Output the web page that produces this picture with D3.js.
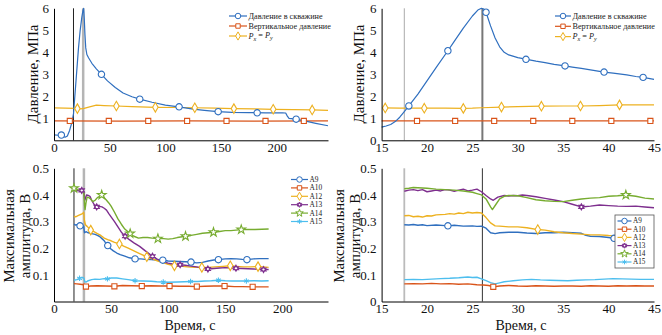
<!DOCTYPE html>
<html><head><meta charset="utf-8">
<script src="https://cdn.jsdelivr.net/npm/d3@7"></script>
<style>
html,body{margin:0;padding:0;background:#fff;}
svg{display:block;font-family:"Liberation Serif","Times New Roman",serif;}
</style></head>
<body><svg id="c" width="662" height="335"></svg>
<script>
// ---------------- DATA ----------------
// Top-left panel (time 0..246 s), pressure MPa
const wellL = [[0,0.25],[4,0.23],[7,0.22],[10,0.14],[12,0.2],[14,0.45],[16,0.8],[17.5,1.2],[19,2.2],[20.5,3.2],[22,4.2],[23.5,5.0],[25,5.6],[26,5.9],[26.6,6.0],[27.2,5.5],[27.8,4.8],[28.5,4.2],[29.5,3.9],[31,3.75],[34,3.5],[38,3.25],[42.6,3.0],[48,2.7],[55,2.4],[62,2.15],[70,1.98],[77,1.87],[88,1.73],[100,1.6],[112,1.52],[125,1.42],[135,1.36],[147,1.3],[160,1.27],[175,1.26],[190,1.25],[205,1.25],[208,1.24],[209.5,1.1],[211,1.0],[217,0.96],[225,0.88],[235,0.77],[246,0.66]];
const wellMarkL = [[6.6,0.24],[42.6,3.0],[77,1.87],[112.3,1.52],[147.4,1.3],[182.4,1.25],[217.4,0.96]];
const vertL = [[0,0.88],[60,0.875],[120,0.88],[180,0.875],[246,0.88]];
const vertMarkL = [[14.2,0.88],[49.2,0.88],[84.6,0.88],[119.5,0.88],[154.9,0.88],[189.9,0.88],[224.3,0.88]];
const pxyL = [[0,1.47],[10,1.46],[18,1.45],[21,1.44],[24,1.43],[27,1.45],[32,1.52],[38,1.6],[45,1.58],[56,1.56],[70,1.53],[91,1.5],[110,1.49],[126,1.48],[145,1.46],[161,1.44],[180,1.43],[197,1.41],[215,1.39],[232,1.38],[246,1.36]];
const pxyMarkL = [[21,1.44],[56,1.56],[91,1.5],[126.4,1.48],[161.5,1.44],[196.8,1.41],[231.8,1.38]];

// Top-right panel (time 15..45 s)
const wellR = [[15,0.6],[15.5,0.65],[16,0.72],[16.5,0.85],[17,1.05],[17.5,1.3],[18,1.56],[19,2.1],[20,2.7],[21,3.3],[22.3,4.07],[23,4.5],[24,5.1],[25,5.65],[25.6,5.92],[26,6.0],[26.3,5.95],[26.5,5.82],[27,5.2],[27.5,4.65],[28,4.25],[28.5,4.0],[29,3.88],[30,3.76],[31,3.68],[32,3.6],[33,3.53],[34,3.45],[35.2,3.38],[36,3.33],[37,3.27],[38,3.2],[39.5,3.1],[40.5,3.05],[42,2.97],[43,2.9],[43.8,2.86],[45,2.77]];
const wellMarkR = [[18,1.56],[22.3,4.07],[26.5,5.82],[30.9,3.68],[35.2,3.38],[39.5,3.1],[43.8,2.86]];
const vertR = [[15,0.88],[30,0.88],[45,0.88]];
const vertMarkR = [[18.9,0.88],[23.1,0.88],[27.4,0.88],[31.7,0.88],[36.0,0.88],[40.3,0.88],[44.6,0.88]];
const pxyR = [[15.2,1.47],[17,1.46],[19.7,1.46],[22,1.46],[24,1.45],[25,1.46],[26,1.48],[28.2,1.51],[30,1.53],[32.6,1.55],[35,1.56],[36.9,1.56],[39,1.58],[41.2,1.61],[43,1.61],[45,1.61]];
const pxyMarkR = [[15.4,1.47],[19.7,1.46],[24,1.45],[28.2,1.51],[32.6,1.55],[36.9,1.56],[41.2,1.61]];

// Bottom-left panel (time 0..240 s), max amplitude V
const a9L = [[17.5,0.29],[19,0.287],[21,0.289],[22.8,0.284],[24.5,0.286],[26,0.282],[26.7,0.258],[28,0.262],[30,0.258],[33,0.255],[36,0.252],[38,0.248],[40,0.244],[42,0.236],[44,0.228],[46,0.215],[47.1,0.21],[49,0.2],[52,0.19],[55,0.182],[58,0.176],[62,0.17],[66,0.164],[71,0.16],[76,0.16],[80,0.158],[85,0.157],[90,0.156],[95.3,0.155],[100,0.152],[105,0.151],[110,0.15],[115,0.149],[120,0.148],[125,0.145],[130,0.147],[135,0.152],[140,0.156],[144,0.157],[150,0.16],[155,0.161],[160,0.16],[165,0.158],[169,0.157],[175,0.16],[180,0.161],[188,0.161]];
const a9MarkL = [[22.8,0.284],[47.1,0.21],[71,0.16],[95.3,0.155],[120,0.148],[144,0.157],[169,0.157]];
const a10L = [[17.5,0.067],[20,0.066],[23,0.065],[26,0.063],[27,0.057],[28,0.056],[32,0.058],[38,0.059],[45,0.058],[52.9,0.057],[60,0.06],[68,0.059],[76.9,0.058],[85,0.059],[93,0.058],[101.2,0.058],[110,0.057],[118,0.057],[125.1,0.056],[132,0.057],[140,0.058],[149.4,0.058],[158,0.056],[165,0.056],[174,0.055],[181,0.055],[188,0.055]];
const a10MarkL = [[28,0.056],[52.9,0.057],[76.9,0.058],[101.2,0.058],[125.1,0.056],[149.4,0.058],[174,0.055]];
const a12L = [[17.5,0.32],[19,0.318],[21,0.322],[23,0.326],[25,0.33],[26,0.335],[26.6,0.305],[27.5,0.288],[29,0.282],[32.2,0.268],[35,0.262],[38,0.255],[41,0.248],[44,0.238],[47,0.232],[50,0.228],[53,0.222],[57.3,0.216],[61,0.208],[65,0.2],[70,0.19],[75,0.18],[81.3,0.168],[86,0.16],[91,0.152],[96,0.145],[100,0.14],[105.5,0.134],[110,0.133],[117,0.13],[123,0.128],[129.5,0.128],[135,0.128],[141,0.13],[148,0.132],[154.4,0.134],[160,0.132],[166,0.13],[172,0.13],[178.7,0.131],[183,0.13],[188,0.128]];
const a12MarkL = [[32.2,0.268],[57.3,0.216],[81.3,0.168],[105.5,0.134],[129.5,0.128],[154.4,0.134],[178.7,0.131]];
const a13L = [[17.5,0.42],[19,0.418],[21,0.415],[23,0.418],[25,0.415],[26.2,0.41],[27,0.38],[28.5,0.4],[30,0.398],[31.5,0.395],[33,0.38],[35,0.365],[37.4,0.355],[40,0.357],[42,0.355],[44,0.35],[46,0.343],[48,0.33],[50,0.318],[53,0.3],[56,0.28],[59,0.26],[62.3,0.245],[66,0.232],[70,0.22],[75,0.207],[80,0.19],[86.3,0.17],[90,0.16],[95,0.15],[100,0.144],[105,0.14],[110.5,0.138],[115,0.136],[120,0.133],[125,0.13],[130,0.125],[134.8,0.122],[140,0.124],[145,0.126],[150,0.127],[159.4,0.125],[165,0.124],[170,0.123],[175,0.122],[183.5,0.12],[188,0.12]];
const a13MarkL = [[24.3,0.417],[37.4,0.355],[62.3,0.245],[86.3,0.17],[110.5,0.138],[134.8,0.122],[159.4,0.125],[183.5,0.12]];
const a14L = [[17.5,0.425],[19,0.424],[21,0.42],[23,0.418],[25,0.415],[26.2,0.405],[26.8,0.36],[27.2,0.345],[28,0.37],[29,0.392],[30.5,0.39],[32,0.385],[34,0.375],[36,0.38],[38,0.39],[40,0.395],[41.8,0.4],[44,0.39],[46,0.38],[48,0.37],[50,0.358],[53,0.335],[56,0.31],[59,0.29],[62,0.272],[66.7,0.255],[70,0.245],[74,0.238],[78,0.24],[82,0.24],[86,0.238],[91,0.236],[96,0.236],[100,0.234],[104,0.236],[108,0.24],[115.2,0.245],[120,0.248],[125,0.252],[130,0.256],[135,0.258],[139.7,0.26],[145,0.263],[150,0.266],[155,0.266],[164,0.27],[170,0.27],[176,0.27],[182,0.271],[188,0.272]];
const a14MarkL = [[17.5,0.425],[41.8,0.4],[66.7,0.255],[91,0.236],[115.2,0.245],[139.7,0.26],[164,0.27]];
const a15L = [[17.5,0.08],[20,0.082],[23,0.088],[25,0.09],[26.2,0.088],[27,0.074],[28,0.073],[30,0.078],[33,0.082],[36,0.084],[40,0.083],[44,0.086],[46.8,0.085],[50,0.088],[55,0.088],[60,0.085],[65,0.082],[71,0.078],[78,0.077],[85,0.076],[90,0.074],[95.7,0.073],[100,0.072],[108,0.073],[114,0.074],[119.6,0.075],[126,0.075],[132,0.077],[138,0.078],[144,0.08],[150,0.078],[156,0.077],[162,0.077],[168.5,0.077],[175,0.078],[182,0.077],[188,0.078]];
const a15MarkL = [[22.4,0.087],[46.8,0.085],[71,0.078],[95.7,0.073],[119.6,0.075],[144,0.08],[168.5,0.077]];

// Bottom-right panel (time 15..45 s)
const a9R = [[17.5,0.288],[18,0.287],[18.5,0.289],[19,0.286],[19.5,0.288],[20,0.285],[21,0.287],[22,0.285],[22.3,0.284],[23,0.286],[24,0.283],[25,0.284],[25.5,0.282],[26,0.283],[26.5,0.275],[27,0.258],[27.5,0.255],[28,0.258],[29,0.26],[30,0.26],[31,0.257],[32,0.255],[33,0.258],[34,0.258],[35,0.26],[36,0.258],[37,0.256],[37.5,0.248],[38,0.245],[39,0.244],[40,0.24],[41,0.235],[41.5,0.232],[42,0.23],[43,0.226],[44,0.224],[45,0.222]];
const a9MarkR = [[22.3,0.284],[40.6,0.237]];
const a10R = [[17.5,0.066],[18.5,0.067],[19.5,0.066],[20.5,0.068],[21.5,0.066],[22.5,0.067],[23.5,0.065],[24.5,0.066],[25.5,0.063],[26.2,0.062],[26.8,0.06],[27.3,0.055],[28,0.058],[29,0.06],[30,0.058],[31,0.057],[32,0.059],[33,0.058],[34,0.057],[35,0.058],[36,0.058],[37,0.057],[38,0.059],[39,0.058],[40,0.057],[41,0.059],[42,0.058],[43,0.059],[44,0.058],[45,0.058]];
const a10MarkR = [[27.3,0.055]];
const a12R = [[17.5,0.322],[18,0.323],[18.5,0.318],[19,0.32],[19.5,0.317],[20,0.322],[20.5,0.321],[21,0.325],[22,0.327],[22.5,0.33],[23,0.328],[23.5,0.332],[24,0.33],[24.5,0.335],[25,0.332],[25.5,0.334],[26,0.332],[26.5,0.315],[27,0.295],[27.5,0.284],[28,0.283],[29,0.28],[30,0.28],[31,0.277],[32.2,0.27],[33,0.268],[34,0.262],[35,0.258],[36,0.255],[37,0.253],[38,0.25],[39,0.25],[40,0.248],[41,0.247],[42,0.245],[43,0.244],[44,0.242],[45,0.242]];
const a12MarkR = [[32.2,0.27]];
const a13R = [[17.5,0.414],[18,0.418],[18.5,0.42],[19,0.416],[19.5,0.42],[20,0.412],[20.5,0.415],[21,0.418],[21.5,0.415],[22,0.42],[22.5,0.418],[23,0.414],[23.5,0.418],[24,0.422],[24.5,0.415],[25,0.418],[25.5,0.422],[26,0.412],[26.5,0.398],[27,0.385],[27.3,0.38],[27.8,0.392],[28.5,0.398],[29,0.396],[29.5,0.398],[30,0.397],[30.5,0.4],[31,0.398],[32,0.393],[33,0.387],[34,0.381],[35,0.375],[36,0.365],[37,0.355],[38,0.358],[39,0.362],[40,0.36],[41,0.358],[42,0.357],[43,0.358],[44,0.355],[45,0.352]];
const a13MarkR = [[37,0.355]];
const a14R = [[17.5,0.423],[18,0.425],[18.5,0.428],[19,0.427],[20,0.425],[21,0.422],[22,0.42],[23,0.418],[24,0.415],[25,0.41],[25.5,0.405],[26,0.4],[26.5,0.385],[27,0.355],[27.2,0.345],[27.6,0.365],[28,0.385],[28.5,0.395],[29,0.398],[30,0.397],[31,0.39],[32,0.382],[33,0.378],[34,0.376],[35,0.375],[36,0.38],[37,0.385],[38,0.388],[39,0.39],[40,0.395],[41,0.397],[41.9,0.4],[43,0.395],[44,0.388],[45,0.385]];
const a14MarkR = [[41.9,0.4]];
const a15R = [[17.5,0.082],[18.5,0.083],[19.5,0.082],[20.5,0.084],[21.5,0.086],[22.5,0.087],[23.5,0.089],[24.5,0.092],[25,0.09],[25.5,0.091],[26,0.085],[26.5,0.078],[27,0.071],[27.5,0.066],[28,0.07],[28.5,0.074],[29.5,0.078],[30.5,0.081],[31.5,0.083],[32.5,0.081],[33.5,0.08],[34.5,0.079],[35.5,0.078],[36.5,0.08],[37.5,0.081],[38.5,0.082],[39.5,0.084],[40.5,0.086],[41.5,0.085],[42.5,0.084],[43.5,0.083],[44.5,0.083],[45,0.083]];
const a15MarkR = [];

// Ticks, labels
const xTicksWide = [0,50,100,150,200];
const xTicksZoom = [15,20,25,30,35,40,45];
const yTicksPressL = [1,2,3,4,5,6];
const yTicksPressR = [0,1,2,3,4,5,6];
const yTicksAmpL = [0.1,0.2,0.3,0.4,0.5];
const yTicksAmpR = [0,0.1,0.2,0.3,0.4,0.5];
const vlinesTopL = [17.5, 26.2];
const vlinesTopR = [17.5, 26.1];
const vlinesBotL = [17.5, 26.2];
const vlinesBotR = [17.5, 26.1];
const pressNames = ["Давление в скважине","Вертикальное давление","Px = Py"];
const ampNames = ["A9","A10","A12","A13","A14","A15"];
const yTitlePress = "Давление, МПа";
const yTitleAmp = ["Максимальная","амплитуда, В"];
const xTitle = "Время, с";

// ---------------- STYLE ----------------
const C = {blue:"#2f6fbf", orange:"#d9541a", yellow:"#edb120", purple:"#7e2f8e", green:"#77ac30", cyan:"#4dbeee"};

const hexagram = {draw(ctx, size){
  const r = Math.sqrt(size)*0.62;
  for (let k=0;k<2;k++){
    for (let i=0;i<3;i++){
      const a = (k?Math.PI/2:-Math.PI/2) + i*2*Math.PI/3;
      const px = r*Math.cos(a), py = r*Math.sin(a);
      if(i===0) ctx.moveTo(px,py); else ctx.lineTo(px,py);
    }
    ctx.closePath();
  }
}};
const shapes = {circle:d3.symbolCircle, square:d3.symbolSquare, diamond:d3.symbolDiamond, hex:hexagram, star:d3.symbolStar, ast:d3.symbolAsterisk};
const sizes = {circle:32, square:26, diamond:26, hex:24, star:24, ast:20};

const svg = d3.select("#c");

function panel(p){
  const x = d3.scaleLinear().domain(p.xDomain).range([p.left,p.right]);
  const y = d3.scaleLinear().domain(p.yDomain).range([p.bottom,p.top]);
  const g = svg.append("g");
  p.vlines.forEach((v,i)=>{
    g.append("line").attr("x1",x(v)).attr("x2",x(v)).attr("y1",y(p.yDomain[0])).attr("y2",y(p.yDomain[1]))
     .attr("stroke",p.vstyle[i].c).attr("stroke-width",p.vstyle[i].w);
  });
  const line = d3.line().x(d=>x(d[0])).y(d=>y(d[1]));
  p.series.forEach(s=>{
    g.append("path").datum(s.data).attr("d",line).attr("fill","none")
     .attr("stroke",s.color).attr("stroke-width",p.lw).attr("stroke-linejoin","round");
  });
  p.series.forEach(s=>{
    const sym = d3.symbol().type(shapes[s.shape]).size(sizes[s.shape]);
    g.selectAll(null).data(s.marks).enter().append("path")
     .attr("transform",d=>`translate(${x(d[0])},${y(d[1])})`)
     .attr("d",sym).attr("fill",s.shape==="ast"?s.color:"#fff").attr("stroke",s.color).attr("stroke-width",1.1);
  });
  const ax = g.append("g").attr("transform",`translate(0,${p.bottom})`)
    .call(d3.axisBottom(x).tickValues(p.xTicks).tickSize(0).tickPadding(2).tickFormat(d3.format("d")));
  const ay = g.append("g").attr("transform",`translate(${p.left},0)`)
    .call(d3.axisLeft(y).tickValues(p.yTicks).tickSize(0).tickPadding(5).tickFormat(p.yFmt));
  [ax,ay].forEach(a=>{
    a.select(".domain").attr("stroke","#000").attr("stroke-width",1);
    a.selectAll("text").attr("font-family","Liberation Serif").attr("font-size",13).attr("fill","#111");
  });
  return {x,y,g};
}

function legendRows(g, items, x0, x1, y0, dy, fs){
  items.forEach((it,i)=>{
    const yy = y0+i*dy;
    g.append("line").attr("x1",x0).attr("x2",x1).attr("y1",yy).attr("y2",yy).attr("stroke",it.color).attr("stroke-width",1.2);
    g.append("path").attr("transform",`translate(${(x0+x1)/2},${yy})`)
      .attr("d",d3.symbol().type(shapes[it.shape]).size(sizes[it.shape]*0.75))
      .attr("fill",it.shape==="ast"?it.color:"#fff").attr("stroke",it.color).attr("stroke-width",1);
    const t = g.append("text").attr("x",x1+1.5).attr("y",yy).attr("dy","0.33em")
      .attr("font-size",fs).attr("fill","#222").attr("font-family","Liberation Serif");
    if (it.name==="Px = Py"){
      t.append("tspan").attr("font-style","italic").text("P");
      t.append("tspan").attr("font-style","italic").attr("font-size",fs*0.75).attr("dy","0.3em").text("x");
      t.append("tspan").attr("dy","-0.3em").text(" = ");
      t.append("tspan").attr("font-style","italic").text("P");
      t.append("tspan").attr("font-style","italic").attr("font-size",fs*0.75).attr("dy","0.3em").text("y");
    } else t.text(it.name);
  });
}

function yTitle(lines, x, yc, fs){
  lines.forEach((s,i)=>{
    svg.append("text").attr("transform",`translate(${x+i*fs*1.05},${yc}) rotate(-90)`)
      .attr("text-anchor","middle").attr("dy","0.35em").attr("font-size",fs).attr("fill","#111").text(s);
  });
}

const pressColors=[C.blue,C.orange,C.yellow], pressShapes=["circle","square","diamond"];
const ampColors=[C.blue,C.orange,C.yellow,C.purple,C.green,C.cyan], ampShapes=["circle","square","diamond","hex","star","ast"];

const TL = panel({xDomain:[0,246], yDomain:[0,6], left:54, right:328, top:8.3, bottom:140.3, lw:1.2,
  xTicks:xTicksWide, yTicks:yTicksPressL, yFmt:d3.format("d"),
  vlines:vlinesTopL, vstyle:[{c:"#222",w:1},{c:"#b5b5b5",w:2.5}],
  series:[{data:wellL,marks:wellMarkL,color:C.blue,shape:"circle"},
          {data:vertL,marks:vertMarkL,color:C.orange,shape:"square"},
          {data:pxyL,marks:pxyMarkL,color:C.yellow,shape:"diamond"}].reverse()});
legendRows(TL.g, pressNames.map((n,i)=>({name:n,color:pressColors[i],shape:pressShapes[i]})), 229, 247, 16, 10, 8.2);

const TR = panel({xDomain:[15,45], yDomain:[0,6], left:381.6, right:654, top:8.3, bottom:140.3, lw:1.2,
  xTicks:xTicksZoom, yTicks:yTicksPressR, yFmt:d3.format("d"),
  vlines:vlinesTopR, vstyle:[{c:"#aaa",w:1},{c:"#777",w:2}],
  series:[{data:wellR,marks:wellMarkR,color:C.blue,shape:"circle"},
          {data:vertR,marks:vertMarkR,color:C.orange,shape:"square"},
          {data:pxyR,marks:pxyMarkR,color:C.yellow,shape:"diamond"}].reverse()});
legendRows(TR.g, pressNames.map((n,i)=>({name:n,color:pressColors[i],shape:pressShapes[i]})), 555, 571, 16, 10.3, 8.2);

const ampFmt = d=> d===0?"0":d.toFixed(1);
const BL = panel({xDomain:[0,240], yDomain:[0,0.5], left:54, right:328, top:168.3, bottom:301.5, lw:1.4,
  xTicks:xTicksWide, yTicks:yTicksAmpL, yFmt:ampFmt,
  vlines:vlinesBotL, vstyle:[{c:"#222",w:1},{c:"#b5b5b5",w:2.5}],
  series:[{data:a9L,marks:a9MarkL,color:C.blue,shape:"circle"},
          {data:a10L,marks:a10MarkL,color:C.orange,shape:"square"},
          {data:a12L,marks:a12MarkL,color:C.yellow,shape:"diamond"},
          {data:a13L,marks:a13MarkL,color:C.purple,shape:"hex"},
          {data:a14L,marks:a14MarkL,color:C.green,shape:"star"},
          {data:a15L,marks:a15MarkL,color:C.cyan,shape:"ast"}]});
legendRows(BL.g, ampNames.map((n,i)=>({name:n,color:ampColors[i],shape:ampShapes[i]})), 291, 308, 179.5, 8.4, 7.4);

const BR = panel({xDomain:[15,45], yDomain:[0,0.5], left:381.6, right:654, top:168.3, bottom:301.5, lw:1.4,
  xTicks:xTicksZoom, yTicks:yTicksAmpR, yFmt:ampFmt,
  vlines:vlinesBotR, vstyle:[{c:"#bbb",w:1.8},{c:"#333",w:1}],
  series:[{data:a9R,marks:a9MarkR,color:C.blue,shape:"circle"},
          {data:a10R,marks:a10MarkR,color:C.orange,shape:"square"},
          {data:a12R,marks:a12MarkR,color:C.yellow,shape:"diamond"},
          {data:a13R,marks:a13MarkR,color:C.purple,shape:"hex"},
          {data:a14R,marks:a14MarkR,color:C.green,shape:"star"},
          {data:a15R,marks:a15MarkR,color:C.cyan,shape:"ast"}]});
BR.g.append("rect").attr("x",615).attr("y",215).attr("width",39).attr("height",53).attr("fill","#fff").attr("stroke","#555").attr("stroke-width",0.8);
legendRows(BR.g, ampNames.map((n,i)=>({name:n,color:ampColors[i],shape:ampShapes[i]})), 617.5, 631.5, 221, 8.2, 7.2);

yTitle([yTitlePress], 33, 74, 15);
yTitle([yTitlePress], 359, 74, 15);
yTitle(yTitleAmp, 9, 236, 15);
yTitle(yTitleAmp, 339, 236, 15);
svg.append("text").attr("x",190).attr("y",330).attr("text-anchor","middle").attr("font-size",14).attr("fill","#111").text(xTitle);
svg.append("text").attr("x",521).attr("y",330).attr("text-anchor","middle").attr("font-size",14).attr("fill","#111").text(xTitle);
</script></body></html>
